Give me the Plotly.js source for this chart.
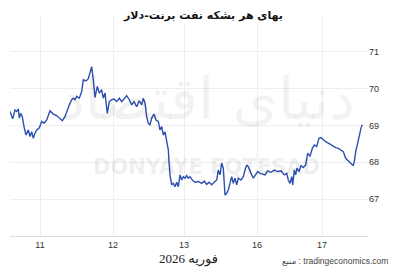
<!DOCTYPE html>
<html>
<head>
<meta charset="utf-8">
<script src="https://cdn.plot.ly/plotly-3.0.1.min.js"></script>
<style>html,body{margin:0;padding:0;background:#fff;}#chart{width:400px;height:268px;}</style>
</head>
<body>
<div id="chart"></div>
<script>
// Time position (trading-time units, left edge = 0) and Brent price (USD)
const timePos = [0,2.7,5,6.7,8.3,9.3,10.7,12.3,14,16,18.3,20,21.7,23.3,25,26.7,29.3,31.7,34,36.7,40,43.3,46.7,50,52.3,55,56.7,59.3,61.7,63.3,65,66.7,69.3,71.7,73.3,76,78.3,80,81.7,83.3,85,87.3,89.3,91.7,93.3,95,97.3,99.3,101.7,104,106.7,109.3,111.7,114,116.7,119.3,121.7,124,126.7,129.3,131.7,133.3,135,136.7,138.3,140,141.7,144,146,148.3,150,151.7,153.3,155,156.7,158.3,159,160,161.7,163.3,165,166.7,168.3,170,171.7,173.3,175,176.7,178.3,180,182.3,185,188.3,191.7,194.3,196.7,199,201.7,204.3,206.7,208.3,210,211.7,213.3,215,216.7,218.3,220,221.7,223.3,225,226.7,228.3,231,233.3,235,236.7,238.3,240,241.7,243.3,245.7,247.7,250,255,257.7,261,264.3,267.7,271,274.3,276.7,278.3,280,281.7,282.7,284.3,285.7,287,289,291,293.3,295.7,297.7,300,302.3,304.3,306.7,309,311,313.3,315.7,318.3,321,323.3,325.7,328.3,331,333.3,335.7,338.3,341,343.3,344.3,345.7,347.7,349,351,352.3];
const price = [69.38,69.18,69.42,69.38,69.45,69.20,69.33,69.24,68.97,68.74,68.88,68.70,68.83,68.65,68.79,68.88,68.94,69.11,69.06,69.15,69.40,69.31,69.27,69.18,69.13,69.24,69.38,69.56,69.70,69.74,69.70,69.79,69.74,69.92,70.24,70.21,70.27,70.46,70.60,70.24,69.76,70.06,69.88,69.97,69.74,69.88,69.33,69.65,69.70,69.72,69.65,69.74,69.65,69.72,69.81,69.70,69.56,69.65,69.51,69.67,69.56,69.74,69.61,69.24,69.06,69.02,69.20,69.31,69.15,69.11,68.88,68.97,68.74,68.83,68.52,68.34,68.02,67.66,67.39,67.43,67.34,67.46,67.34,67.66,67.52,67.61,67.57,67.64,67.57,67.61,67.52,67.46,67.48,67.43,67.49,67.40,67.46,67.39,67.46,67.52,67.79,67.66,67.98,67.84,67.11,67.16,67.25,67.43,67.61,67.43,67.57,67.39,67.57,67.52,67.61,67.79,67.93,67.88,67.79,67.66,67.57,67.66,67.75,67.70,67.66,67.77,67.73,67.79,67.75,67.77,67.66,67.70,67.52,67.43,67.61,67.39,67.79,67.66,67.84,67.75,67.91,67.86,67.93,68.25,68.16,68.38,68.47,68.43,68.65,68.67,68.61,68.56,68.52,68.47,68.45,68.40,68.38,68.34,68.29,68.11,68.04,67.98,67.91,68.02,68.29,68.52,68.70,68.93,69.02];
// X tick labels (days of February 2026) and their positions
const dayTickPos = [30,103,174,247,312];
const dayLabels = ['11','12','13','16','17'];
// Y ticks
const priceTicks = [67,68,69,70,71,72];
const priceLabels = ['67','68','69','70','71',''];

const trace = {
  x: timePos, y: price, type: 'scatter', mode: 'lines',
  line: {color: '#2d50ae', width: 1.4, shape: 'linear'},
  hoverinfo: 'skip'
};

const layout = {
  width: 400, height: 268,
  margin: {l: 10, r: 32, t: 15, b: 32},
  paper_bgcolor: '#fff', plot_bgcolor: '#fff',
  showlegend: false,
  font: {family: 'Liberation Sans, Arial, sans-serif', size: 9, color: '#333'},
  xaxis: {
    range: [0, 358], tickvals: dayTickPos, ticktext: dayLabels,
    showgrid: true, gridcolor: '#eeeeee', gridwidth: 1,
    zeroline: false, showline: true, linecolor: '#dcdcdc', linewidth: 1,
    ticks: '', tickfont: {size: 9, color: '#333'}, fixedrange: true
  },
  yaxis: {
    range: [66, 72], side: 'right', tickvals: priceTicks, ticktext: priceLabels,
    showgrid: true, gridcolor: '#eeeeee', gridwidth: 1,
    zeroline: false, showline: false, ticks: '',
    tickfont: {size: 9, color: '#333'}, fixedrange: true
  },
  annotations: [
    {text: 'دنیای اقتصاد', xref: 'paper', yref: 'paper', x: 0.55, y: 0.62,
     showarrow: false, font: {family: 'DejaVu Sans', size: 58, color: 'rgba(0,0,0,0.05)'}},
    {text: '<b>DONYAYE EQTESAD</b>', xref: 'paper', yref: 'paper', x: 0.55, y: 0.25,
     showarrow: false, font: {family: 'DejaVu Sans', size: 21, color: 'rgba(0,0,0,0.08)'}},
    {text: '<b>بهای هر بشکه نفت برنت-دلار</b>', xref: 'paper', yref: 'paper', x: (203-10)/358, xanchor: 'center',
     y: 1, yanchor: 'middle', showarrow: false, bgcolor: '#fff', borderpad: 2,
     font: {family: 'DejaVu Sans', size: 11, color: '#111'}},
    {text: 'فوریه 2026', xref: 'paper', yref: 'paper', x: (188-10)/358, y: (236-259)/221, xanchor: 'center', yanchor: 'middle',
     showarrow: false, font: {family: 'Liberation Serif, DejaVu Sans', size: 13, color: '#222'}},
    {text: 'منبع : tradingeconomics.com', xref: 'paper', yref: 'paper', x: (390-10)/358, y: (236-261)/221, xanchor: 'right', yanchor: 'middle',
     showarrow: false, font: {family: 'Liberation Sans, DejaVu Sans', size: 8.5, color: '#444'}}
  ]
};

Plotly.newPlot('chart', [trace], layout, {displayModeBar: false, staticPlot: true});
</script>
</body>
</html>
